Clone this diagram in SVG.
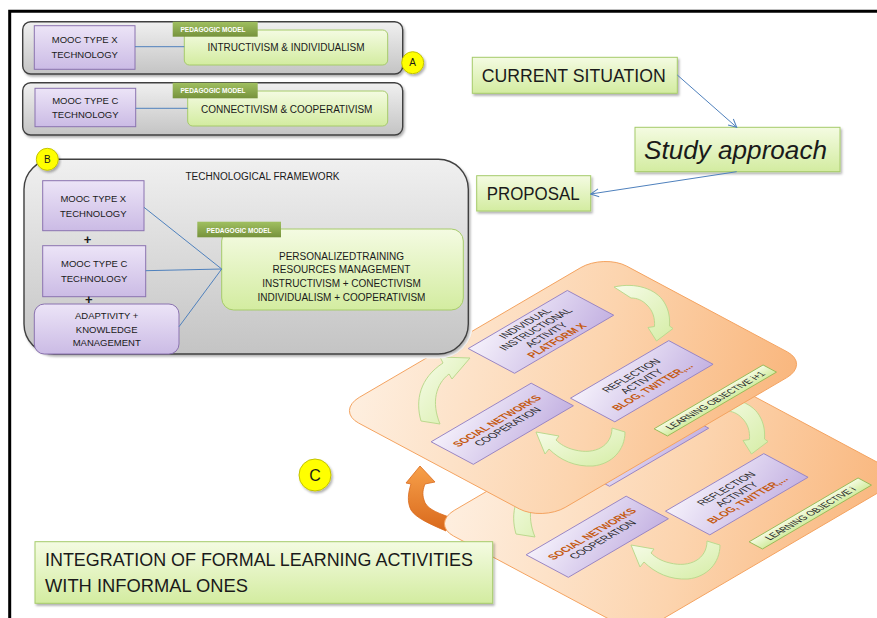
<svg xmlns="http://www.w3.org/2000/svg" width="877" height="618" viewBox="0 0 877 618">
<defs>
<style>
text { font-family: "Liberation Sans", Arial, sans-serif; fill: #1a1a1a; }
.cont { fill: url(#gGrey); stroke: #404040; stroke-width: 1.4; }
.purple { fill: url(#gPurple); stroke: #8a72b0; stroke-width: 1; }
.green { fill: url(#gGreen); stroke: #a6cb6a; stroke-width: 1; }
.tab { fill: url(#gTab); }
.tabt { fill: #ffffff; font-weight: bold; font-size: 6.5px; text-anchor: middle; }
.t10 { font-size: 10px; text-anchor: middle; }
.t95 { font-size: 9.5px; text-anchor: middle; }
.badge { fill: #ffff00; stroke: #c2c200; stroke-width: 1; }
.conn { stroke: #4f81bd; stroke-width: 1; fill: none; }
.plane { fill: url(#gPlane); stroke: #f4a360; stroke-width: 1; }
.pbox { fill: url(#gPBox); stroke: #9a86c4; stroke-width: 1; }
.lobj { fill: url(#gGreen); stroke: #9bbb59; stroke-width: 1; }
.pt { font-size: 9.5px; text-anchor: middle; fill: #262626; }
.po { font-size: 9.5px; text-anchor: middle; fill: #c55a11; font-weight: bold; }
.lt { font-size: 8.5px; text-anchor: middle; fill: #262626; }
.garrow { fill: url(#gArrow); stroke: #bcd98e; stroke-width: 1; }
</style>
<linearGradient id="gGrey" x1="0" y1="0" x2="0" y2="1"><stop offset="0" stop-color="#f0f0f0"/><stop offset="1" stop-color="#c4c4c4"/></linearGradient>
<linearGradient id="gPurple" x1="0" y1="0" x2="0" y2="1"><stop offset="0" stop-color="#ece4f7"/><stop offset="1" stop-color="#cbbbe5"/></linearGradient>
<linearGradient id="gGreen" x1="0" y1="0" x2="0" y2="1"><stop offset="0" stop-color="#f4fbe2"/><stop offset="1" stop-color="#d3eca0"/></linearGradient>
<linearGradient id="gTab" x1="0" y1="0" x2="0" y2="1"><stop offset="0" stop-color="#a0c060"/><stop offset="1" stop-color="#76923c"/></linearGradient>
<linearGradient id="gPlane" x1="0" y1="0" x2="1" y2="1"><stop offset="0" stop-color="#fef0e2"/><stop offset="0.55" stop-color="#fcd4ae"/><stop offset="1" stop-color="#f9b57b"/></linearGradient>
<linearGradient id="gPBox" x1="0" y1="0" x2="1" y2="1"><stop offset="0" stop-color="#f5f1fb"/><stop offset="1" stop-color="#c4b2e2"/></linearGradient>
<linearGradient id="gArrow" x1="0" y1="0" x2="1" y2="1"><stop offset="0" stop-color="#f7fcea"/><stop offset="1" stop-color="#d5eda5"/></linearGradient>
<linearGradient id="gOrange" x1="0" y1="0" x2="0" y2="1"><stop offset="0" stop-color="#f7a04a"/><stop offset="1" stop-color="#d9691c"/></linearGradient>
<filter id="sh" x="-10%" y="-15%" width="125%" height="140%"><feDropShadow dx="1.5" dy="2" stdDeviation="1.2" flood-color="#000" flood-opacity="0.3"/></filter>
<marker id="mOpen" markerWidth="10" markerHeight="10" refX="9" refY="5" orient="auto" markerUnits="userSpaceOnUse"><path d="M1,1 L9,5 L1,9" fill="none" stroke="#4f81bd" stroke-width="1"/></marker>
</defs>

<rect x="0" y="0" width="877" height="618" fill="#ffffff"/>
<path d="M9.7,618 V11.3 H877" fill="none" stroke="#000" stroke-width="3"/>

<!-- orange arrow between planes -->
<g id="orange-arrow">
<path d="M449,517 C435,512 426,508 424,500 C422,494 423,489 425,484 L435,482 L420,466 L406,483 L411,484 C408,493 407,502 411,510 C416,518 430,524 446,531 Z" fill="url(#gOrange)" stroke="#d9691c" stroke-width="0.8"/>
</g>

<!-- lower plane: learning objective i -->
<g id="plane-i" transform="translate(95,113)">
<g transform="matrix(0.8933,-0.5233,1.03,0.55,336,411)">
<rect class="plane" x="0" y="0" width="300" height="200" rx="26" ry="22" vector-effect="non-scaling-stroke"/>
</g>
<path class="garrow" d="M614,287 C636,282 656,289 664,302 C669,310 670,318 669.5,326 L673,328.5 L656.5,341 L648,327.5 L654.5,326.5 C655,318 653,311 647,305 C642,300 637,298 631,298 Z"/>
<path class="garrow" d="M421,421 C415,400 420,378 443,363 L440,357 L470,358 L452,379 L449,374 C436,384 431,402 440,424 Z"/>
<path class="garrow" d="M612,428 C612,446 595,455 575,450 C566,448 560,444 556,440 L559,436 L536,432 L545,454 L549,449 C560,460 575,467 593,466 C612,464 625,450 625,432 Z"/>
<g transform="matrix(0.8933,-0.5233,1.03,0.55,336,411)">
<rect class="pbox" x="133" y="13" width="111" height="45" vector-effect="non-scaling-stroke"/>
<rect class="pbox" x="138" y="108" width="110" height="43" vector-effect="non-scaling-stroke"/>
<rect class="pbox" x="20" y="75" width="112" height="41" vector-effect="non-scaling-stroke"/>
<text class="pt" x="193" y="122.5">REFLECTION</text>
<text class="pt" x="193" y="132.8">ACTIVITY</text>
<text class="po" x="193" y="143.1">BLOG, TWITTER,...</text>
<text class="po" x="76" y="93.7">SOCIAL NETWORKS</text>
<text class="pt" x="76" y="104">COOPERATION</text>
<rect class="lobj" x="152" y="177" width="122" height="13" vector-effect="non-scaling-stroke"/>
<text class="lt" x="213" y="186.5">LEARNING OBJECTIVE i</text>
</g>
</g>

<!-- upper plane: learning objective i+1 -->
<g id="plane-i1">
<g transform="matrix(0.8933,-0.5233,1.03,0.55,336,411)">
<rect class="plane" x="0" y="0" width="300" height="200" rx="26" ry="22" vector-effect="non-scaling-stroke"/>
</g>
<path class="garrow" d="M614,287 C636,282 656,289 664,302 C669,310 670,318 669.5,326 L673,328.5 L656.5,341 L648,327.5 L654.5,326.5 C655,318 653,311 647,305 C642,300 637,298 631,298 Z"/>
<path class="garrow" d="M421,421 C415,400 420,378 443,363 L440,357 L470,358 L452,379 L449,374 C436,384 431,402 440,424 Z"/>
<path class="garrow" d="M612,428 C612,446 595,455 575,450 C566,448 560,444 556,440 L559,436 L536,432 L545,454 L549,449 C560,460 575,467 593,466 C612,464 625,450 625,432 Z"/>
<g transform="matrix(0.8933,-0.5233,1.03,0.55,336,411)">
<rect class="pbox" x="133" y="13" width="111" height="45" vector-effect="non-scaling-stroke"/>
<text class="pt" x="188.5" y="23.4">INDIVIDUAL</text>
<text class="pt" x="188.5" y="33.7">INSTRUCTIONAL</text>
<text class="pt" x="188.5" y="44">ACTIVITY</text>
<text class="po" x="188.5" y="54.3">PLATFORM X</text>
<rect class="pbox" x="138" y="108" width="110" height="43" vector-effect="non-scaling-stroke"/>
<text class="pt" x="193" y="122.5">REFLECTION</text>
<text class="pt" x="193" y="132.8">ACTIVITY</text>
<text class="po" x="193" y="143.1">BLOG, TWITTER,...</text>
<rect class="pbox" x="20" y="75" width="112" height="41" vector-effect="non-scaling-stroke"/>
<text class="po" x="76" y="93.7">SOCIAL NETWORKS</text>
<text class="pt" x="76" y="104">COOPERATION</text>
<rect class="lobj" x="152" y="177" width="122" height="13" vector-effect="non-scaling-stroke"/>
<text class="lt" x="213" y="186.5">LEARNING OBJECTIVE i+1</text>
</g>
</g>

<!-- A: two MOOC rows -->
<g id="row-x">
<rect class="cont" x="22.7" y="21.7" width="380" height="52.3" rx="8" filter="url(#sh)"/>
<rect class="purple" x="34.3" y="25.7" width="100.7" height="43.6"/>
<text class="t95" x="84.7" y="43.3">MOOC TYPE X</text>
<text class="t95" x="84.7" y="58">TECHNOLOGY</text>
<rect class="green" x="184.3" y="30" width="203.4" height="35" rx="5"/>
<text class="t10" x="286" y="50.5">INTRUCTIVISM &amp; INDIVIDUALISM</text>
<rect class="tab" x="172.7" y="21.7" width="85" height="15"/>
<text class="tabt" x="213" y="31.7">PEDAGOGIC  MODEL</text>
</g>
<g id="row-c">
<rect class="cont" x="22.7" y="82.7" width="380" height="52.3" rx="8" filter="url(#sh)"/>
<rect class="purple" x="35" y="88.3" width="100.7" height="38.4"/>
<text class="t95" x="85.3" y="104">MOOC TYPE C</text>
<text class="t95" x="85.3" y="118.3">TECHNOLOGY</text>
<rect class="green" x="187.7" y="91" width="200" height="35" rx="5"/>
<text class="t10" x="286.7" y="113.3">CONNECTIVISM &amp; COOPERATIVISM</text>
<rect class="tab" x="172.7" y="82.7" width="85" height="15.6"/>
<text class="tabt" x="213" y="93.3">PEDAGOGIC  MODEL</text>
</g>
<g id="badge-a">
<circle class="badge" cx="412.7" cy="62.7" r="11" filter="url(#sh)"/>
<text x="412.7" y="66.3" font-size="10" text-anchor="middle">A</text>
</g>

<!-- B: technological framework -->
<g id="framework">
<rect x="24" y="159.3" width="444.3" height="194.7" rx="30" fill="none" stroke="#ffffff" stroke-width="9"/>
<rect class="cont" x="24" y="159.3" width="444.3" height="194.7" rx="30" filter="url(#sh)"/>
<text class="t10" x="262.5" y="180">TECHNOLOGICAL FRAMEWORK</text>
</g>
<g id="mooc-x">
<rect class="purple" x="42.7" y="180.7" width="101.3" height="50"/>
<text class="t95" x="93.3" y="201.7">MOOC TYPE X</text>
<text class="t95" x="93.3" y="216.5">TECHNOLOGY</text>
</g>
<text x="87.5" y="243.8" font-size="13" font-weight="bold" text-anchor="middle">+</text>
<g id="mooc-c">
<rect class="purple" x="42.7" y="245.7" width="103" height="51"/>
<text class="t95" x="94.2" y="267">MOOC TYPE C</text>
<text class="t95" x="94.2" y="281.5">TECHNOLOGY</text>
</g>
<text x="88.7" y="303.8" font-size="13" font-weight="bold" text-anchor="middle">+</text>
<g id="adaptivity">
<rect class="purple" x="34.3" y="304" width="144.7" height="50" rx="10"/>
<text class="t95" x="106.7" y="319">ADAPTIVITY +</text>
<text class="t95" x="106.7" y="332.5">KNOWLEDGE</text>
<text class="t95" x="106.7" y="346">MANAGEMENT</text>
</g>
<g id="pedagogic-model">
<rect class="green" x="221.7" y="229" width="241.6" height="81" rx="12"/>
<rect class="tab" x="197.3" y="221.7" width="83.7" height="15.6"/>
<text class="tabt" x="239" y="232.5">PEDAGOGIC  MODEL</text>
<text class="t10" x="341.5" y="260">PERSONALIZEDTRAINING</text>
<text class="t10" x="341.5" y="273.3">RESOURCES MANAGEMENT</text>
<text class="t10" x="341.5" y="287">INSTRUCTIVISM + CONECTIVISM</text>
<text class="t10" x="341.5" y="300.7">INDIVIDUALISM + COOPERATIVISM</text>
</g>
<g id="badge-b">
<circle class="badge" cx="47.3" cy="159.3" r="11" filter="url(#sh)"/>
<text x="47.3" y="163" font-size="10" text-anchor="middle">B</text>
</g>

<!-- study flow -->
<g id="current-situation">
<rect class="green" x="472.3" y="57.3" width="205" height="36" filter="url(#sh)"/>
<text x="481.7" y="82.3" font-size="18" textLength="184" lengthAdjust="spacingAndGlyphs">CURRENT SITUATION</text>
</g>
<g id="study-approach">
<rect class="green" x="635" y="127.3" width="205" height="44.4" filter="url(#sh)"/>
<text x="644" y="159.3" font-size="26" font-style="italic" textLength="183" lengthAdjust="spacingAndGlyphs">Study approach</text>
</g>
<g id="proposal">
<rect class="green" x="476.7" y="175.7" width="114" height="35.3" filter="url(#sh)"/>
<text x="486.7" y="200" font-size="18" textLength="93" lengthAdjust="spacingAndGlyphs">PROPOSAL</text>
</g>

<g id="badge-c">
<circle class="badge" cx="315" cy="475" r="16" filter="url(#sh)"/>
<text x="315" y="481" font-size="16" text-anchor="middle">C</text>
</g>

<g id="integration">
<rect class="green" x="35" y="541.7" width="457.7" height="61.6" filter="url(#sh)"/>
<text x="45" y="566" font-size="19" textLength="428" lengthAdjust="spacingAndGlyphs">INTEGRATION OF FORMAL LEARNING ACTIVITIES</text>
<text x="45" y="591.5" font-size="19" textLength="203" lengthAdjust="spacingAndGlyphs">WITH INFORMAL ONES</text>
</g>

<g id="connectors">
<line class="conn" x1="135" y1="46.7" x2="184.3" y2="46.7"/>
<line class="conn" x1="135.7" y1="108.3" x2="187.7" y2="108.3"/>
<line class="conn" x1="144" y1="207.3" x2="221.7" y2="269"/>
<line class="conn" x1="145.7" y1="270.7" x2="221.7" y2="269"/>
<line class="conn" x1="179" y1="326.7" x2="221.7" y2="269"/>
<line class="conn" x1="677.3" y1="75" x2="736.7" y2="127.3" marker-end="url(#mOpen)"/>
<line class="conn" x1="736.7" y1="171.7" x2="590.7" y2="194" marker-end="url(#mOpen)"/>
</g>
</svg>
